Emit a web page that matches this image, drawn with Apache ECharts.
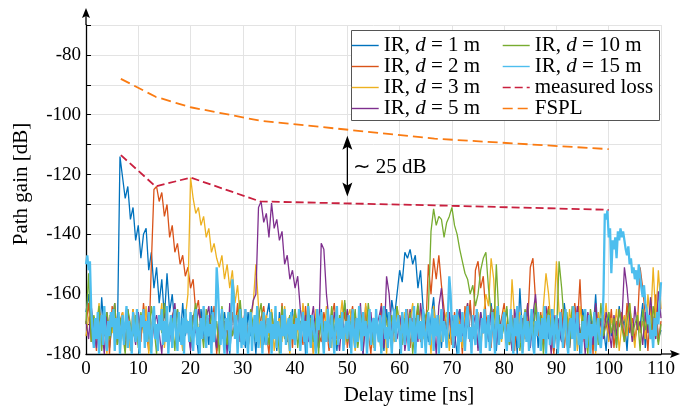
<!DOCTYPE html>
<html>
<head>
<meta charset="utf-8">
<script src="https://cdn.jsdelivr.net/npm/echarts@6/dist/echarts.min.js"></script>
<style>
html,body{margin:0;padding:0;background:#fff;}
#c{width:693px;height:407px;}
</style>
</head>
<body>
<div id="c"></div>
<script>
// sampling steps of the impulse responses (ns)
const delayStep = 0.5;
const delayStep15 = 0.25;

// IR, d = 1 m
const ir1 = [
-166,-160,-172,-177,-168,-179,-161,-173,-167,-178,-170,-165,-175,-114,-121,-128,-124,-135,-131,-142,
-137,-148,-140,-138,-152,-146,-158,-151,-163,-155,-168,-153,-166,-160,-171,-165,-176,-163,-174,-169,
-178,-167,-172,-180,-165,-174,-169,-177,-164,-171,-179,-168,-175,-166,-173,-180,-167,-170,-176,-164,
-172,-178,-166,-174,-169,-180,-165,-171,-177,-168,-163,-175,-170,-179,-166,-173,-168,-176,-171,-165,
-177,-169,-174,-164,-180,-170,-167,-175,-172,-178,-165,-173,-169,-176,-166,-171,-179,-168,-174,-163,
-170,-178,-166,-173,-175,-168,-180,-164,-172,-169,-176,-167,-174,-171,-179,-165,-173,-162,-168,-160,
-152,-156,-146,-148,-145,-150,-147,-158,-152,-165,-170,-176,-168,-161,-174,-169,-178,-166,-172,-175,
-167,-173,-180,-165,-171,-177,-169,-164,-175,-170,-178,-166,-173,-168,-176,-163,-171,-179,-167,-174,
-170,-165,-177,-172,-168,-180,-158,-174,-169,-166,-176,-171,-164,-178,-167,-173,-170,-175,-165,-179,
-168,-172,-176,-163,-171,-178,-166,-174,-169,-180,-165,-170,-177,-167,-173,-160,-175,-168,-171,-179,
-166,-174,-170,-177,-164,-172,-168,-179,-165,-173,-176,-169,-171,-163,-178,-167,-174,-170,-165,-175,
-172];

// IR, d = 2 m
const ir2 = [
-170,-163,-176,-168,-179,-165,-172,-174,-167,-180,-164,-171,-177,-169,-166,-175,-170,-178,-165,-173,
-168,-176,-163,-172,-179,-150,-125,-124,-129,-126,-134,-130,-141,-137,-146,-143,-150,-147,-154,-151,
-158,-155,-166,-162,-171,-165,-177,-168,-173,-164,-180,-170,-167,-175,-169,-178,-166,-172,-163,-176,
-171,-167,-179,-165,-174,-170,-177,-168,-164,-173,-180,-166,-172,-169,-176,-163,-175,-171,-167,-178,
-165,-172,-169,-177,-164,-174,-170,-180,-167,-173,-176,-166,-171,-179,-168,-163,-175,-170,-172,-166,
-178,-169,-164,-174,-171,-167,-177,-165,-173,-180,-168,-170,-176,-163,-172,-175,-166,-179,-169,-171,
-167,-174,-170,-165,-178,-168,-173,-164,-176,-170,-172,-150,-160,-148,-155,-147,-157,-165,-171,-168,
-177,-166,-173,-169,-180,-164,-171,-162,-175,-152,-149,-158,-154,-167,-172,-178,-165,-170,-174,-168,
-163,-176,-171,-167,-179,-165,-172,-168,-175,-170,-151,-148,-162,-174,-166,-177,-169,-164,-173,-180,
-167,-172,-165,-178,-170,-168,-175,-163,-171,-155,-176,-166,-173,-169,-180,-164,-172,-177,-167,-170,
-174,-165,-178,-169,-171,-166,-176,-163,-173,-168,-175,-170,-151,-158,-167,-179,-164,-172,-160,-176,
-169];

// IR, d = 3 m
const ir3 = [
-174,-168,-165,-178,-171,-163,-176,-169,-180,-167,-173,-164,-177,-170,-166,-175,-172,-179,-165,-171,
-177,-168,-173,-164,-180,-170,-166,-175,-171,-163,-178,-169,-174,-167,-165,-176,-172,-179,-168,-160,
-121,-128,-133,-131,-137,-134,-141,-138,-146,-143,-148,-151,-147,-155,-150,-158,-152,-163,-157,-168,
-172,-166,-175,-169,-163,-150,-164,-178,-170,-167,-174,-165,-179,-171,-168,-176,-164,-173,-180,-169,
-166,-172,-177,-163,-170,-175,-168,-180,-165,-173,-169,-176,-164,-171,-178,-167,-174,-170,-162,-177,
-168,-165,-173,-179,-170,-166,-176,-163,-172,-169,-178,-167,-174,-171,-165,-180,-168,-173,-176,-164,
-171,-177,-166,-174,-169,-163,-178,-170,-165,-175,-172,-168,-180,-164,-173,-167,-176,-170,-166,-179,
-169,-174,-165,-171,-178,-167,-163,-176,-170,-172,-166,-179,-168,-160,-164,-148,-155,-173,-169,-176,
-165,-171,-177,-155,-168,-174,-166,-180,-170,-163,-175,-169,-172,-167,-178,-164,-153,-160,-171,-168,
-149,-166,-174,-170,-177,-165,-172,-168,-179,-164,-171,-176,-167,-173,-169,-180,-166,-174,-170,-163,
-176,-168,-172,-165,-179,-170,-167,-174,-163,-171,-178,-166,-173,-169,-175,-160,-170,-151,-168,-152,
-165];

// IR, d = 5 m
const ir5 = [
-169,-175,-164,-172,-178,-167,-171,-180,-166,-174,-169,-163,-176,-170,-168,-179,-165,-173,-171,-177,
-166,-172,-169,-175,-164,-178,-170,-167,-173,-180,-165,-171,-176,-168,-163,-174,-170,-177,-166,-172,
-179,-167,-173,-165,-170,-176,-168,-164,-175,-171,-178,-166,-172,-169,-180,-163,-174,-170,-167,-176,
-171,-165,-178,-168,-162,-160,-131,-129,-136,-133,-141,-129.5,-138,-135,-142,-139,-150,-147,-155,-152,
-158,-154,-165,-172,-167,-176,-170,-164,-174,-178,-143,-145,-160,-169,-175,-166,-171,-179,-168,-173,
-165,-177,-170,-167,-174,-163,-180,-169,-172,-166,-176,-171,-168,-164,-178,-154,-160,-173,-167,-175,
-170,-166,-179,-172,-165,-174,-168,-176,-163,-171,-177,-167,-173,-169,-180,-164,-158,-170,-175,-166,
-172,-178,-168,-165,-174,-170,-163,-176,-171,-167,-179,-166,-173,-169,-175,-164,-170,-177,-168,-172,
-166,-174,-170,-179,-165,-171,-176,-168,-173,-163,-178,-167,-160,-172,-169,-175,-164,-171,-180,-167,
-173,-168,-176,-165,-170,-178,-167,-172,-164,-174,-169,-180,-166,-171,-177,-163,-173,-169,-175,-166,
-171,-178,-167,-174,-165,-170,-151,-158,-168,-176,-164,-172,-169,-177,-166,-173,-161,-170,-175,-159,
-168];

// IR, d = 10 m
const ir10 = [
-170,-153,-176,-167,-172,-164,-179,-169,-166,-175,-171,-163,-177,-168,-173,-180,-165,-170,-174,-167,
-178,-166,-172,-169,-175,-164,-171,-180,-167,-173,-163,-176,-170,-168,-179,-165,-172,-174,-166,-171,
-176,-168,-163,-173,-170,-178,-165,-172,-167,-175,-169,-180,-164,-171,-177,-166,-174,-170,-168,-162,
-173,-167,-179,-165,-171,-176,-168,-163,-174,-170,-177,-166,-172,-169,-180,-164,-175,-171,-167,-173,
-165,-178,-170,-167,-174,-163,-171,-176,-168,-180,-166,-172,-169,-175,-164,-173,-177,-167,-170,-162,
-176,-169,-173,-165,-178,-170,-166,-174,-163,-171,-177,-168,-172,-180,-165,-169,-175,-167,-173,-164,
-171,-177,-168,-174,-166,-180,-170,-163,-175,-172,-167,-165,-139,-131.5,-137,-134,-135,-141,-136,-134,
-131,-137,-140,-145,-149,-153,-155,-160,-157,-164,-160,-152,-148,-146,-158,-166,-172,-150,-168,-175,
-170,-164,-177,-168,-173,-166,-179,-171,-165,-174,-169,-176,-163,-172,-167,-180,-170,-165,-173,-168,
-175,-149,-158,-170,-166,-178,-164,-172,-169,-176,-167,-173,-180,-165,-171,-168,-177,-163,-174,-170,
-166,-173,-168,-178,-165,-171,-176,-169,-163,-174,-170,-167,-179,-165,-172,-168,-175,-164,-171,-177,
-170];

// IR, d = 15 m (sampled every 0.25 ns)
const ir15 = [
-150,-147,-152,-149,-165,-172,-178,-168,-175,-166,-180,-171,-167,-177,-164,-173,-179,-169,-174,-166,
-171,-165,-179,-168,-175,-166,-180,-172,-167,-177,-170,-164,-178,-169,-174,-180,-166,-172,-176,-165,
-174,-180,-167,-171,-165,-178,-169,-176,-166,-173,-180,-168,-164,-175,-170,-179,-167,-172,-165,-177,
-169,-176,-164,-180,-172,-167,-178,-170,-165,-174,-179,-166,-171,-177,-168,-180,-165,-173,-169,-176,
-166,-173,-179,-169,-165,-177,-171,-180,-168,-175,-164,-172,-178,-167,-174,-170,-180,-166,-176,-171,
-151,-158,-170,-177,-165,-174,-180,-168,-172,-166,-179,-170,-155,-160,-175,-167,-180,-171,-165,-178,
-168,-177,-165,-174,-180,-170,-166,-179,-172,-167,-176,-164,-178,-171,-169,-180,-166,-173,-177,-168,
-173,-166,-180,-170,-175,-164,-178,-169,-172,-180,-167,-174,-165,-177,-171,-168,-179,-166,-175,-170,
-177,-168,-172,-165,-179,-171,-166,-176,-169,-180,-164,-173,-178,-167,-170,-175,-180,-165,-172,-168,
-166,-174,-180,-169,-176,-165,-171,-178,-167,-173,-180,-170,-164,-177,-168,-175,-166,-179,-172,-169,
-175,-167,-171,-180,-165,-173,-178,-168,-176,-164,-170,-179,-166,-174,-169,-180,-172,-165,-177,-170,
-168,-179,-165,-172,-176,-167,-180,-170,-164,-175,-171,-178,-166,-173,-180,-169,-165,-176,-170,-167,
-174,-180,-166,-171,-177,-165,-173,-179,-168,-170,-176,-164,-180,-172,-167,-175,-169,-178,-165,-173,
-180,-170,-166,-177,-172,-165,-179,-168,-174,-167,-180,-171,-165,-176,-169,-173,-178,-166,-154,-160,
-171,-178,-167,-174,-165,-180,-170,-176,-166,-172,-179,-168,-164,-175,-171,-180,-167,-173,-177,-165,
-170,-176,-180,-168,-173,-165,-178,-171,-167,-179,-174,-166,-172,-180,-169,-164,-177,-170,-175,-168,
-166,-173,-179,-170,-176,-165,-172,-180,-168,-174,-164,-178,-171,-167,-180,-173,-166,-176,-169,-179,
-172,-165,-177,-180,-169,-174,-166,-171,-179,-168,-175,-164,-180,-170,-167,-177,-173,-165,-178,-171,
-167,-180,-174,-166,-172,-178,-169,-165,-176,-180,-170,-168,-175,-164,-179,-171,-166,-177,-173,-180,
-169,-175,-165,-178,-172,-167,-180,-170,-174,-166,-179,-171,-168,-176,-178,-172,-160,-133,-135,-132,
-141,-138,-153,-142,-145,-141,-148,-139,-142,-138,-141,-139,-142,-145,-147,-144,-150,-148,-153,-151,
-155,-152,-157,-150,-154,-158,-161,-157,-163,-165,-170,-167,-175,-172,-178,-168,-174,-166,-170,-162,
-156];

// peak delays (ns) of the distances 1, 2, 3, 5, 10, 15 m
const peakDelay = [6.67, 13.33, 20, 33.33, 66.67, 100];
const measuredLoss = [-113.5, -124, -121, -129, -130.3, -131.8];
const fspl = [-88, -94, -97.5, -102, -108, -111.5];

const xTicks = {min: 0, max: 110, step: 10};
const yTicks = {min: -180, max: -70, step: 10};

const irNames = ['IR, d = 1 m','IR, d = 2 m','IR, d = 3 m','IR, d = 5 m','IR, d = 10 m','IR, d = 15 m'];
const irData = [ir1, ir2, ir3, ir5, ir10, ir15];
const irSteps = [delayStep, delayStep, delayStep, delayStep, delayStep, delayStep15];
const irWidths = [1.3, 1.3, 1.3, 1.3, 1.3, 2.3];
const irColors = ['#0072BD','#D95319','#EDB120','#7E2F8E','#77AC30','#4DBEEE'];

const FONT = "'Liberation Serif','Times New Roman',serif";
const chart = echarts.init(document.getElementById('c'), null, {renderer: 'canvas'});

const series = irData.map((arr, k) => ({
  name: irNames[k], type: 'line', symbol: 'none', showSymbol: false,
  data: arr.map((v, i) => [i * irSteps[k], v]),
  lineStyle: {color: irColors[k], width: irWidths[k], join: 'bevel'},
  itemStyle: {color: irColors[k]},
  clip: true, z: 2 + k, silent: true
}));
series.push({
  name: 'measured loss', type: 'line', symbol: 'none',
  data: peakDelay.map((t, i) => [t, measuredLoss[i]]),
  lineStyle: {color: '#C9203F', width: 1.8, type: [8, 4]},
  itemStyle: {color: '#C9203F'}, z: 10, silent: true
});
series.push({
  name: 'FSPL', type: 'line', symbol: 'none',
  data: peakDelay.map((t, i) => [t, fspl[i]]),
  lineStyle: {color: '#FA7B12', width: 1.8, type: [10, 5]},
  itemStyle: {color: '#FA7B12'}, z: 10, silent: true
});

const rich = {
  n: {fontFamily: FONT, fontSize: 21, lineHeight: 21, color: '#000'},
  i: {fontFamily: FONT, fontSize: 21, lineHeight: 21, fontStyle: 'italic', color: '#000'}
};
const fmt = name => {
  if (name.indexOf('IR, d = ') === 0) {
    return '{n|IR, }{i|d}{n| = ' + name.slice(8) + '}';
  }
  return '{n|' + name + '}';
};
const legendBase = {
  orient: 'vertical', itemWidth: 27, itemHeight: 14, itemGap: 0, padding: 0,
  selectedMode: false, formatter: fmt,
  textStyle: {rich: rich, fontFamily: FONT, fontSize: 21},
  itemStyle: {opacity: 0, borderWidth: 0},
  lineStyle: {width: 1.4}
};

chart.setOption({
  animation: false,
  grid: {left: 86, right: 32, top: 25, bottom: 53, containLabel: false},
  xAxis: {
    type: 'value', min: xTicks.min, max: xTicks.max, interval: xTicks.step,
    axisLine: {show: true, onZero: false, lineStyle: {color: '#000', width: 1.3}},
    axisTick: {show: true, inside: true, length: 5, lineStyle: {color: '#000', width: 1}},
    axisLabel: {fontFamily: FONT, fontSize: 19, color: '#000', margin: 6},
    splitLine: {show: true, lineStyle: {color: '#e3e3e3', width: 1}}
  },
  yAxis: {
    type: 'value', min: yTicks.min, max: yTicks.max, interval: yTicks.step,
    axisLine: {show: true, onZero: false, lineStyle: {color: '#000', width: 1.3}},
    axisTick: {show: true, inside: true, length: 5, lineStyle: {color: '#000', width: 1}},
    axisLabel: {fontFamily: FONT, fontSize: 19, color: '#000', margin: 5,
      formatter: v => (v % 20 === 0 ? String(v) : '')},
    splitLine: {show: true, lineStyle: {color: '#e3e3e3', width: 1}}
  },
  legend: [
    Object.assign({}, legendBase, {left: 351, top: 35, data: irNames.slice(0, 4)}),
    Object.assign({}, legendBase, {left: 502, top: 35, data: [irNames[4], irNames[5], 'measured loss', 'FSPL']})
  ],
  series: series
});

// decorations: axis titles, extended axes with arrow heads, legend frame, 25 dB annotation
const o = chart.convertToPixel({gridIndex: 0}, [xTicks.min, yTicks.min]);
const xe = chart.convertToPixel({gridIndex: 0}, [xTicks.max, yTicks.min]);
const ye = chart.convertToPixel({gridIndex: 0}, [xTicks.min, yTicks.max]);
const aTop = chart.convertToPixel({gridIndex: 0}, [50, -107]);
const aBot = chart.convertToPixel({gridIndex: 0}, [50, -127.3]);
const aTxt = chart.convertToPixel({gridIndex: 0}, [51, -117.5]);

const yTip = ye[1] - 17, xTip = xe[0] + 19;
chart.setOption({
  graphic: [
    {type: 'text', x: 409, y: 395, style: {text: 'Delay time [ns]', fontFamily: FONT, fontSize: 21, fill: '#000', textAlign: 'center', textVerticalAlign: 'middle'}},
    {type: 'text', x: 21, y: 184, rotation: Math.PI / 2, style: {text: 'Path gain [dB]', fontFamily: FONT, fontSize: 21, fill: '#000', textAlign: 'center', textVerticalAlign: 'middle'}},
    {type: 'line', shape: {x1: o[0], y1: ye[1], x2: o[0], y2: yTip + 8}, style: {stroke: '#000', lineWidth: 1.3}, z: 100},
    {type: 'polygon', shape: {points: [[o[0], yTip], [o[0] - 4, yTip + 10], [o[0], yTip + 8], [o[0] + 4, yTip + 10]]}, style: {fill: '#000'}, z: 100},
    {type: 'line', shape: {x1: xe[0], y1: o[1], x2: xTip - 8, y2: o[1]}, style: {stroke: '#000', lineWidth: 1.3}, z: 100},
    {type: 'polygon', shape: {points: [[xTip, o[1]], [xTip - 10, o[1] - 4], [xTip - 8, o[1]], [xTip - 10, o[1] + 4]]}, style: {fill: '#000'}, z: 100},
    {type: 'rect', shape: {x: 351.5, y: 30.5, width: 308, height: 90}, style: {fill: '#fff', stroke: '#555', lineWidth: 1}, z: 0, zlevel: 0},
    {type: 'line', shape: {x1: aTop[0], y1: aTop[1] + 8, x2: aBot[0], y2: aBot[1] - 8}, style: {stroke: '#000', lineWidth: 1.3}, z: 100},
    {type: 'polygon', shape: {points: [[aTop[0], aTop[1]], [aTop[0] - 5, aTop[1] + 14], [aTop[0], aTop[1] + 11], [aTop[0] + 5, aTop[1] + 14]]}, style: {fill: '#000'}, z: 100},
    {type: 'polygon', shape: {points: [[aBot[0], aBot[1]], [aBot[0] - 5, aBot[1] - 14], [aBot[0], aBot[1] - 11], [aBot[0] + 5, aBot[1] - 14]]}, style: {fill: '#000'}, z: 100},
    {type: 'text', x: aTxt[0], y: aTxt[1], style: {text: '∼ 25 dB', fontFamily: FONT, fontSize: 21, fill: '#000', textAlign: 'left', textVerticalAlign: 'middle'}, z: 100}
  ]
});
</script>
</body>
</html>
